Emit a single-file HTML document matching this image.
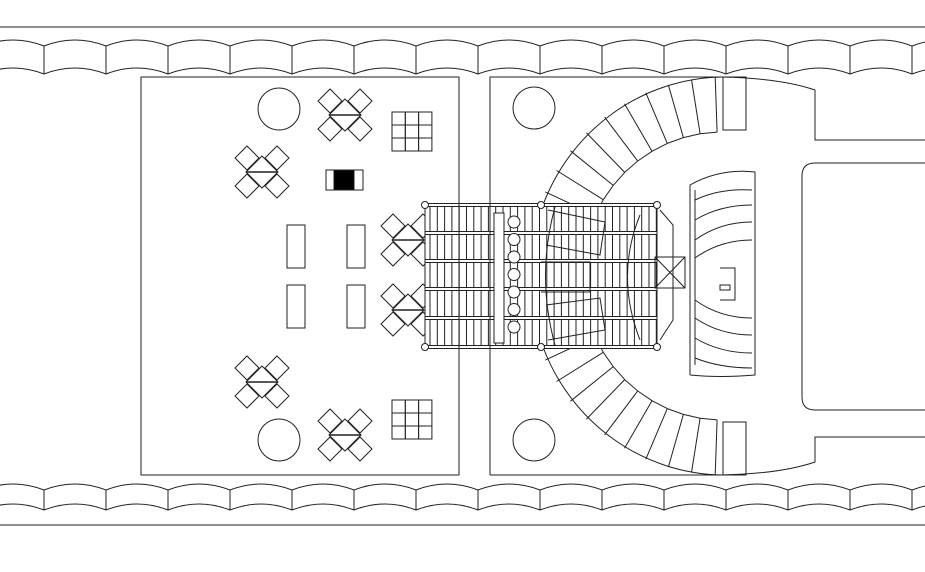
<!DOCTYPE html>
<html><head><meta charset="utf-8"><style>
html,body{margin:0;padding:0;background:#fff;width:925px;height:572px;overflow:hidden}
svg{display:block}
</style></head><body>
<svg id="s" width="925" height="572" viewBox="0 0 925 572" xmlns="http://www.w3.org/2000/svg" fill="none" stroke="#222" stroke-width="1">
<line x1="0" y1="27" x2="925" y2="27"/>
<line x1="0" y1="525" x2="925" y2="525"/>
<rect x="141" y="77" width="318" height="398"/>
<path d="M490 475 V77 H720 Q780 78 815 90 V140 H925"/>
<path d="M490 475 H720 Q780 474 815 462 V437 H925"/>
<path d="M925 163 H815 Q802 163 802 176 V397 Q802 410 815 410 H925"/>
<rect x="723" y="77" width="23" height="53"/>
<rect x="723" y="422" width="23" height="53"/>
<circle cx="279" cy="109" r="21"/><circle cx="279" cy="440" r="21"/>
<circle cx="534" cy="108" r="21"/><circle cx="534" cy="440" r="21"/>
<rect x="326" y="170" width="37" height="20"/><rect x="334" y="170" width="20" height="20" fill="#000"/>
<rect x="287" y="225" width="18" height="43"/><rect x="347" y="225" width="18" height="43"/>
<rect x="287" y="285" width="18" height="43"/><rect x="347" y="285" width="18" height="43"/>
<g id="g"></g>
<path d="M690 375 V185 Q720 168 755 172 V375 Q720 378 690 375"/>
<line x1="695" y1="190" x2="695" y2="365"/>
<path d="M695 200 Q720 188 752 190 M695 220 Q720 205 752 205 M695 240 Q720 222 752 222 M695 258 Q720 240 752 240"/>
<path d="M695 300 Q720 318 752 318 M695 318 Q720 335 752 335 M695 338 Q720 353 752 353 M695 358 Q720 368 752 368"/>
<path d="M720 268 H735 V300 H720"/>
<rect x="720" y="285" width="10" height="5"/>
<rect x="655" y="257" width="30" height="31"/><path d="M655 257 L685 288 M685 257 L655 288"/>
<path d="M660 210 L673 225 V320 L660 340"/>
</svg>
<script>
const g=document.getElementById('g');let h='';
for(const [y1,y2] of [[46,74],[490,510]]){
 for(const yy of [y1,y2]){let d='M-18 '+yy;for(let x=-18;x<925;x+=62){d+=` Q${x+31} ${yy-12} ${x+62} ${yy}`;}h+=`<path d="${d}"/>`;}
 for(let x=44;x<925;x+=62)h+=`<line x1="${x}" y1="${y1}" x2="${x}" y2="${y2}"/>`;
}
function dia(cx,cy,r,f){return `<path d="M${cx} ${cy-r} L${cx+r} ${cy} L${cx} ${cy+r} L${cx-r} ${cy} Z"${f?' fill="#fff"':''}/>`}
for(const [cx,cy] of [[345,115],[262,172],[408,240],[408,310],[262,382],[345,435]]){
 for(const [dx,dy] of [[-15,-14],[15,-14],[-15,14],[15,14]])h+=dia(cx+dx,cy+dy,12,1);
 h+=dia(cx,cy,16,1)+`<line x1="${cx-16}" y1="${cy}" x2="${cx+16}" y2="${cy}" stroke-width="1.5"/>`;
}
for(const [x,y] of [[392,112],[392,400]]){for(let i=0;i<3;i++)for(let j=0;j<3;j++)h+=`<rect x="${x+i*13.3}" y="${y+j*13}" width="13.3" height="13"/>`;}
const cx=722,cy=276;
h+=`<path d="M722 77 A195 199 0 0 0 543 205"/><path d="M722 475 A195 199 0 0 1 543 347"/>`;
for(const s of [-1,1]){
 let pts=[];
 for(let a=92;a<=155;a+=7){const r=a*Math.PI/180;const x1=cx+195*Math.cos(r),y1=cy-s*199*Math.sin(r),x2=cx+140*Math.cos(r),y2=cy-s*144*Math.sin(r);h+=`<line x1="${x1.toFixed(1)}" y1="${y1.toFixed(1)}" x2="${x2.toFixed(1)}" y2="${y2.toFixed(1)}"/>`;pts.push([x2,y2]);}
 for(let i=0;i<pts.length-1;i++)h+=`<line x1="${pts[i][0].toFixed(1)}" y1="${pts[i][1].toFixed(1)}" x2="${pts[i+1][0].toFixed(1)}" y2="${pts[i+1][1].toFixed(1)}"/>`;
}
h+=`<rect x="425" y="205" width="232" height="142" fill="#fff"/>`;
for(let x=430;x<657;x+=7.3)h+=`<line x1="${x}" y1="205" x2="${x}" y2="347"/>`;
for(const y of [205,233,261,289,318,347])h+=`<rect x="425" y="${y-1.5}" width="232" height="3" fill="#fff"/>`;
h+=`<rect x="494" y="213" width="10" height="130" fill="#fff"/>`;
for(let y=222;y<335;y+=17.5)h+=`<circle cx="514" cy="${y}" r="6" fill="#fff"/>`;
h+=`<path d="M548 210 L605 222 L600 255 L546 245 M548 340 L605 330 L600 298 L546 305 M541 262 H590 V292 H541"/>`;
h+=`<path d="M555 207 Q536 276 555 345 M640 215 Q615 276 640 340"/>`;
for(const x of [425,541,657])for(const y of [205,347])h+=`<circle cx="${x}" cy="${y}" r="3.5" fill="#fff"/>`;
h+=`<line x1="459" y1="195" x2="459" y2="357"/><line x1="490" y1="195" x2="490" y2="357"/>`;
g.innerHTML=h;
</script>
</body></html>
